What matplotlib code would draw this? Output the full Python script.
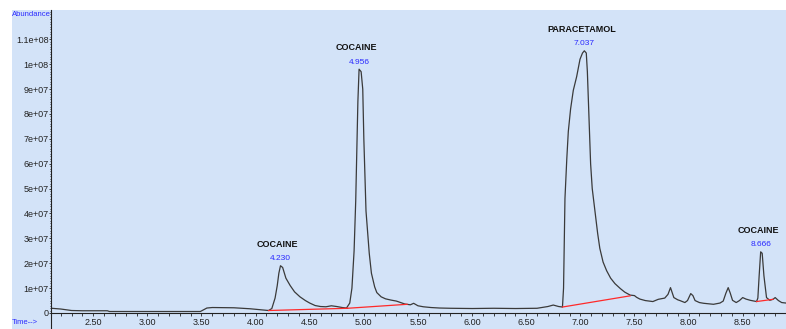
import numpy as np
import matplotlib
matplotlib.use('Agg')
import matplotlib.pyplot as plt
from matplotlib.patches import Rectangle
from matplotlib.lines import Line2D
from matplotlib.ticker import MultipleLocator, FixedLocator

plt.rcParams['font.family'] = ['Liberation Sans', 'DejaVu Sans']

# total ion chromatogram, abundance in units of 1e6
time = [2.115, 2.20, 2.30, 2.40, 2.55, 2.63, 2.65, 3.00, 3.30, 3.49,
        3.55, 3.60, 3.80, 3.95, 4.05, 4.12, 4.15, 4.18, 4.20, 4.215,
        4.23, 4.25, 4.28, 4.32, 4.36, 4.41, 4.46, 4.50, 4.55, 4.60,
        4.65, 4.70, 4.75, 4.80, 4.84, 4.87, 4.89, 4.91, 4.925, 4.935,
        4.945, 4.956, 4.975, 4.99, 5.00, 5.02, 5.05, 5.07, 5.10, 5.12,
        5.16, 5.20, 5.25, 5.30, 5.38, 5.43, 5.46, 5.50, 5.55, 5.62,
        5.70, 5.80, 6.00, 6.20, 6.40, 6.60, 6.70, 6.75, 6.80, 6.835,
        6.845, 6.858, 6.875, 6.889, 6.91, 6.935, 6.966, 6.997, 7.02, 7.037,
        7.055, 7.065, 7.073, 7.085, 7.095, 7.11, 7.135, 7.16, 7.18, 7.21,
        7.243, 7.28, 7.32, 7.37, 7.41, 7.46, 7.50, 7.52, 7.55, 7.60,
        7.67, 7.72, 7.78, 7.81, 7.833, 7.85, 7.864, 7.90, 7.92, 7.966,
        7.99, 8.02, 8.04, 8.06, 8.10, 8.14, 8.23, 8.29, 8.32, 8.345,
        8.366, 8.385, 8.406, 8.44, 8.47, 8.50, 8.53, 8.57, 8.628, 8.64,
        8.652, 8.666, 8.68, 8.696, 8.72, 8.75, 8.78, 8.80, 8.83, 8.86,
        8.90]
abundance = [1.9, 1.6, 1.0, 0.9, 0.9, 0.9, 0.6, 0.6, 0.6, 0.6,
             2.0, 2.2, 2.1, 1.7, 1.3, 1.0, 1.8, 6.0, 11.0, 16.0,
             19.0, 18.3, 14.0, 11.0, 8.5, 6.5, 5.0, 4.0, 3.0, 2.6,
             2.5, 2.9, 2.6, 2.2, 2.0, 4.0, 10.0, 25.0, 45.0, 65.0,
             85.0, 98.0, 97.0, 90.0, 70.0, 41.0, 24.0, 16.0, 10.5, 8.2,
             6.5, 5.7, 5.2, 4.8, 3.6, 3.3, 3.9, 2.9, 2.5, 2.2,
             2.0, 1.9, 1.8, 1.9, 1.8, 1.9, 2.6, 3.2, 2.6, 2.4,
             10.0, 46.0, 62.0, 73.0, 82.0, 89.5, 95.0, 102.0, 104.5, 105.4,
             104.5, 97.0, 87.0, 72.0, 60.0, 50.0, 41.0, 32.0, 26.0, 20.5,
             17.0, 14.0, 11.8, 9.8, 8.4, 7.2, 7.0, 6.3, 5.6, 5.0,
             4.6, 5.5, 6.0, 7.5, 10.2, 8.0, 6.2, 5.3, 5.0, 4.2,
             5.0, 7.8, 7.0, 5.0, 4.2, 3.9, 3.5, 4.0, 4.8, 8.0,
             10.2, 8.0, 5.1, 4.2, 5.0, 6.2, 5.6, 5.1, 4.6, 6.0,
             15.0, 24.6, 24.0, 15.0, 6.2, 5.1, 5.5, 6.2, 5.0, 4.2,
             4.0]

# integration baselines (start time, start abundance, end time, end abundance)
base_t0 = [4.12, 4.85, 6.835, 8.628]
base_a0 = [1.0, 1.9, 2.4, 4.6]
base_t1 = [4.85, 5.40, 7.46, 8.78]
base_a1 = [1.9, 3.5, 6.9, 5.5]

peak_times = [4.230, 4.956, 7.037, 8.666]
peak_names = ['COCAINE', 'COCAINE', 'PARACETAMOL', 'COCAINE']

bg = '#d3e3f8'
W, H = 786, 329

fig = plt.figure(figsize=(W / 100, H / 100), dpi=100)
fig.patches.append(Rectangle((12 / W, 0), 1, 1 - 10 / H, transform=fig.transFigure,
                             facecolor=bg, edgecolor='none', zorder=-5))
ax = fig.add_axes([51 / W, 16 / H, 1 - 51 / W, 1 - 26 / H])
ax.set_facecolor(bg)

t = np.array(time)
a = np.array(abundance) * 1e6
ax.plot(t, a, color='#3a3a3a', lw=0.9)
for i in range(len(base_t0)):
    ax.plot([base_t0[i], base_t1[i]], [base_a0[i] * 1e6, base_a1[i] * 1e6],
            color='#ff2a2a', lw=0.9)

for pt, name in zip(peak_times, peak_names):
    h = np.interp(pt, t, a)
    ax.annotate('%.3f' % pt, (pt, h), xytext=(0, 5), textcoords='offset points',
                ha='center', va='center', fontsize=6, color='#2a2aff')
    ax.annotate(name, (pt, h), xytext=(-2, 15.5), textcoords='offset points',
                ha='center', va='center', fontsize=6.5, fontweight='bold', color='#111111')

ax.set_xlim(2.11, 8.90)
ax.set_ylim(0, 1.218e8)
ax.xaxis.set_major_locator(MultipleLocator(0.5))
ax.xaxis.set_minor_locator(MultipleLocator(0.1))
ax.xaxis.set_major_formatter(lambda v, p: '%.2f' % v)
ax.yaxis.set_major_locator(FixedLocator(np.arange(0, 12) * 1e7))
ax.yaxis.set_minor_locator(MultipleLocator(1e6))
ylabels = ['0'] + ['%de+07' % i for i in range(1, 10)] + ['1e+08', '1.1e+08']
ax.set_yticklabels(ylabels)

ax.tick_params(axis='x', which='both', direction='out', length=2.2, width=0.6,
               pad=1.5, labelsize=6.5, colors='#222222')
ax.tick_params(axis='y', which='major', direction='out', length=1.5, width=0.6,
               pad=0.3, labelsize=6.5, colors='#222222')
ax.tick_params(axis='y', which='minor', direction='out', length=1.0, width=0.5)
for s in ['top', 'right']:
    ax.spines[s].set_visible(False)
for s in ['left', 'bottom']:
    ax.spines[s].set_linewidth(0.8)
    ax.spines[s].set_color('#222222')

fig.add_artist(Line2D([51 / W, 51 / W], [0, 16 / H], transform=fig.transFigure,
                      color='#222222', lw=0.8))
fig.text(12 / W, 1 - 14 / H, 'Abundance', fontsize=5.5, color='#2a2aff', va='center', ha='left')
fig.text(12 / W, 7 / H, 'Time-->', fontsize=5.5, color='#2a2aff', va='center', ha='left')

fig.savefig('out.png', dpi=100)
